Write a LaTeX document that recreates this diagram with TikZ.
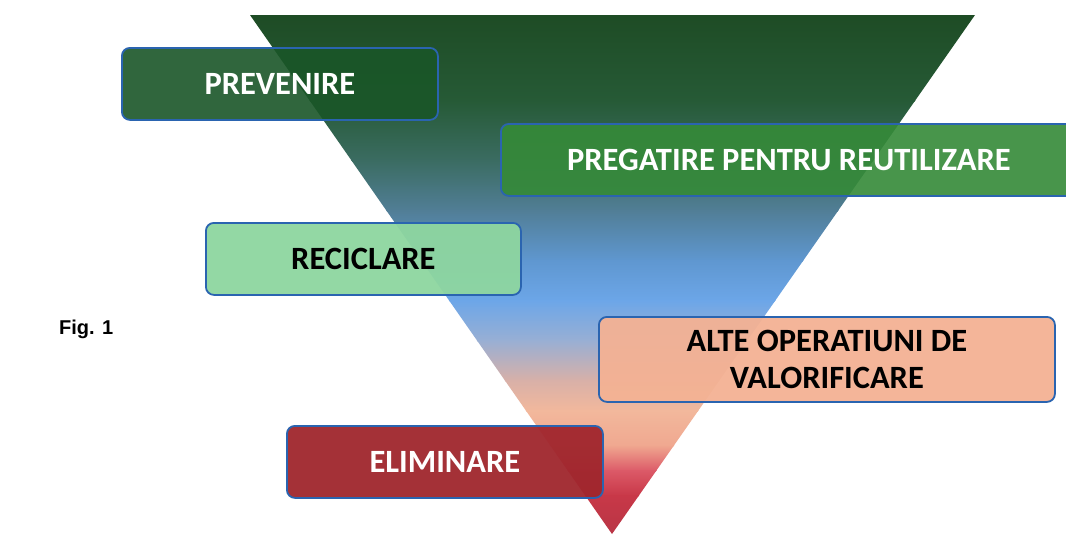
\documentclass[tikz,border=0pt]{standalone}
\usepackage{fontspec}
\setmainfont{Carlito}
\newfontfamily\figfont{Liberation Sans}
\definecolor{g0}{HTML}{1E4C25}
\definecolor{g1}{HTML}{265A36}
\definecolor{g2}{HTML}{3B6C62}
\definecolor{g3}{HTML}{517E96}
\definecolor{g4}{HTML}{5F97D0}
\definecolor{g5}{HTML}{6CA6E8}
\definecolor{g6}{HTML}{98AFD4}
\definecolor{g7}{HTML}{D8B0A8}
\definecolor{g8}{HTML}{F2B89C}
\definecolor{g9}{HTML}{F0A890}
\definecolor{g10}{HTML}{DC5A68}
\definecolor{g11}{HTML}{C83848}
\definecolor{g12}{HTML}{B83545}
\definecolor{bordblue}{HTML}{2A64B0}
\definecolor{cprev}{HTML}{1A5628}
\definecolor{cpreg}{HTML}{358A38}
\definecolor{crec}{HTML}{8ED6A0}
\definecolor{calte}{HTML}{F4B294}
\definecolor{celim}{HTML}{A0262D}
\tikzset{
  box/.style={draw=bordblue, line width=1.8pt, rounded corners=8pt, anchor=north west,
    inner sep=0pt, align=center, font=\fontsize{32.5}{37}\selectfont\bfseries},
  whitetext/.style={text=white},
  blacktext/.style={text=black},
}
\begin{document}
\begin{tikzpicture}[x=1pt,y=-1pt]
\useasboundingbox (0,0) rectangle (1066,536);
\fill[white] (0,0) rectangle (1066,536);
\begin{scope}
\clip (250,15) -- (975,15) -- (612,534) -- cycle;
\foreach \ya/\yb/\ca/\cb in {15/100/g0/g1, 100/160/g1/g2, 160/210/g2/g3, 210/260/g3/g4, 260/300/g4/g5, 300/340/g5/g6, 340/380/g6/g7, 380/410/g7/g8, 410/445/g8/g9, 445/470/g9/g10, 470/495/g10/g11, 495/536/g11/g12}
  \shade[top color=\ca, bottom color=\cb] (240,\ya) rectangle (990,\yb+1);
\end{scope}
\node[box, whitetext, fill=cprev, fill opacity=0.9, text opacity=1, minimum width=316pt, minimum height=72pt] (prev) at (121,47) {PREVENIRE};
\node[box, whitetext, fill=cpreg, fill opacity=0.9, text opacity=1, minimum width=576pt, minimum height=72pt] (preg) at (500,123) {PREGATIRE PENTRU REUTILIZARE};
\node[box, blacktext, fill=crec, fill opacity=0.95, text opacity=1, minimum width=315pt, minimum height=72pt] (rec) at (205,222) {RECICLARE};
\node[box, blacktext, fill=calte, fill opacity=0.95, text opacity=1, minimum width=456pt, minimum height=85pt] (alte) at (598,316) {ALTE OPERATIUNI DE\\VALORIFICARE};
\node[box, whitetext, fill=celim, fill opacity=0.95, text opacity=1, minimum width=316pt, minimum height=72pt] (elim) at (286,425) {ELIMINARE};
\node[anchor=west, inner sep=0pt, font=\figfont\bfseries\fontsize{20}{22}\selectfont] (fig) at (59,329) {Fig. 1};
\end{tikzpicture}
\end{document}
